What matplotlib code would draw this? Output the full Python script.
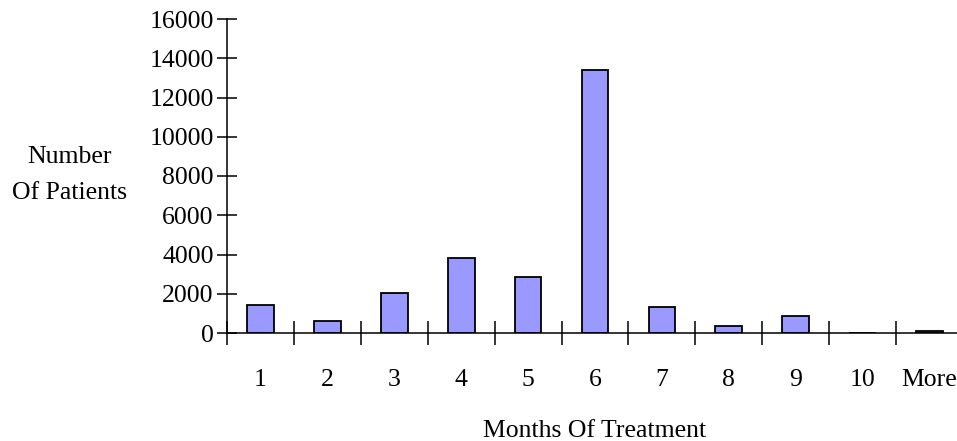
import numpy as np
import matplotlib.pyplot as plt

# Histogram of treatment duration
months   = ['1', '2', '3', '4', '5', '6', '7', '8', '9', '10', 'More']
patients = [1410, 590, 2020, 3830, 2860, 13420, 1310, 340, 880, 0, 80]

plt.rcParams['font.family'] = ['Liberation Serif', 'DejaVu Serif']

fig = plt.figure(figsize=(9.57, 4.41), dpi=100)
ax = fig.add_axes([227/957, 108/441, 736/957, 314/441])

x = np.arange(len(months))
ax.bar(x, patients, width=0.4, color='#9999FF', edgecolor='black', linewidth=1.3)

ax.set_xlim(-0.5, len(months) - 0.5)
ax.set_ylim(0, 16000)
ax.set_yticks(np.arange(0, 16001, 2000))

# labels centred on categories, tick marks on the boundaries
ax.set_xticks(x)
ax.set_xticklabels(months)
ax.set_xticks(np.arange(-0.5, len(months), 1), minor=True)
ax.tick_params(axis='x', which='major', length=0, pad=26, labelsize=18.5)
ax.tick_params(axis='x', which='minor', direction='inout', length=17, width=1.1)
ax.tick_params(axis='y', direction='inout', length=15, width=1.1, pad=2, labelsize=18.5)

for s in ['top', 'right']:
    ax.spines[s].set_visible(False)
for s in ['left', 'bottom']:
    ax.spines[s].set_linewidth(1.1)

fig.text(70/957, 1 - 175/441, 'Number\nOf Patients', ha='center', va='center',
         fontsize=18.5, linespacing=1.8)
fig.text(595/957, 1 - 431/441, 'Months Of Treatment', ha='center', va='center',
         fontsize=18.5)

fig.savefig('out.png', dpi=100)
